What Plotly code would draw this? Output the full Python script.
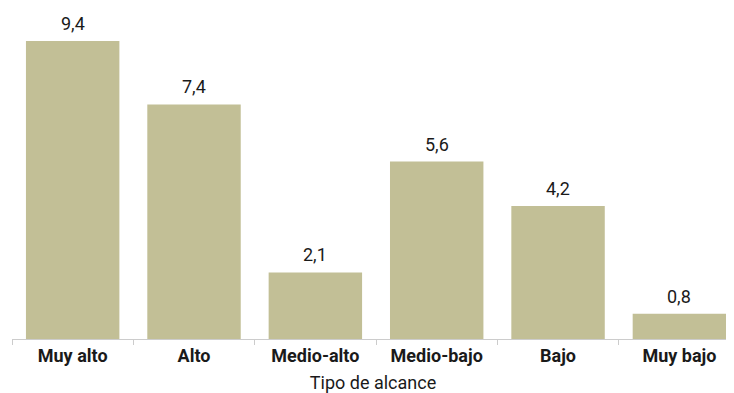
import plotly.graph_objects as go

categories = ["Muy alto", "Alto", "Medio-alto", "Medio-bajo", "Bajo", "Muy bajo"]
values = [9.4, 7.4, 2.1, 5.6, 4.2, 0.8]
value_labels = ["9,4", "7,4", "2,1", "5,6", "4,2", "0,8"]
x_title = "Tipo de alcance"

fig = go.Figure(go.Bar(
    x=categories, y=values,
    marker=dict(color="#c2bf96", line=dict(width=0)),
    cliponaxis=False,
))

for c, v, t in zip(categories, values, value_labels):
    fig.add_annotation(
        x=c, y=v, text=t, showarrow=False,
        xanchor="center", yanchor="bottom", yshift=5,
        font=dict(size=18, color="#1a1a1a", family="Roboto, sans-serif"),
    )

# page body has an 8px default margin, so the figure is 8px smaller than the window
fig.update_layout(
    width=726, height=385,
    margin=dict(l=4, r=0, t=2, b=54, autoexpand=False),
    plot_bgcolor="white", paper_bgcolor="white",
    font=dict(family="Roboto, sans-serif", color="#1a1a1a"),
    bargap=0.23,
    showlegend=False,
)
fig.update_xaxes(
    range=[-0.5, 5.45],
    automargin=False,
    showline=True, linecolor="#cccccc", linewidth=1,
    ticks="outside", tickson="boundaries", ticklen=5, tickcolor="#cccccc",
    tickfont=dict(size=18, color="#1a1a1a", family="Roboto, sans-serif", weight="bold"),
    title=dict(text=x_title, font=dict(size=18, color="#1a1a1a"), standoff=11),
    showgrid=False,
)
fig.update_yaxes(range=[0, 10.38], visible=False, showgrid=False, automargin=False)

fig.write_html("out.html")
